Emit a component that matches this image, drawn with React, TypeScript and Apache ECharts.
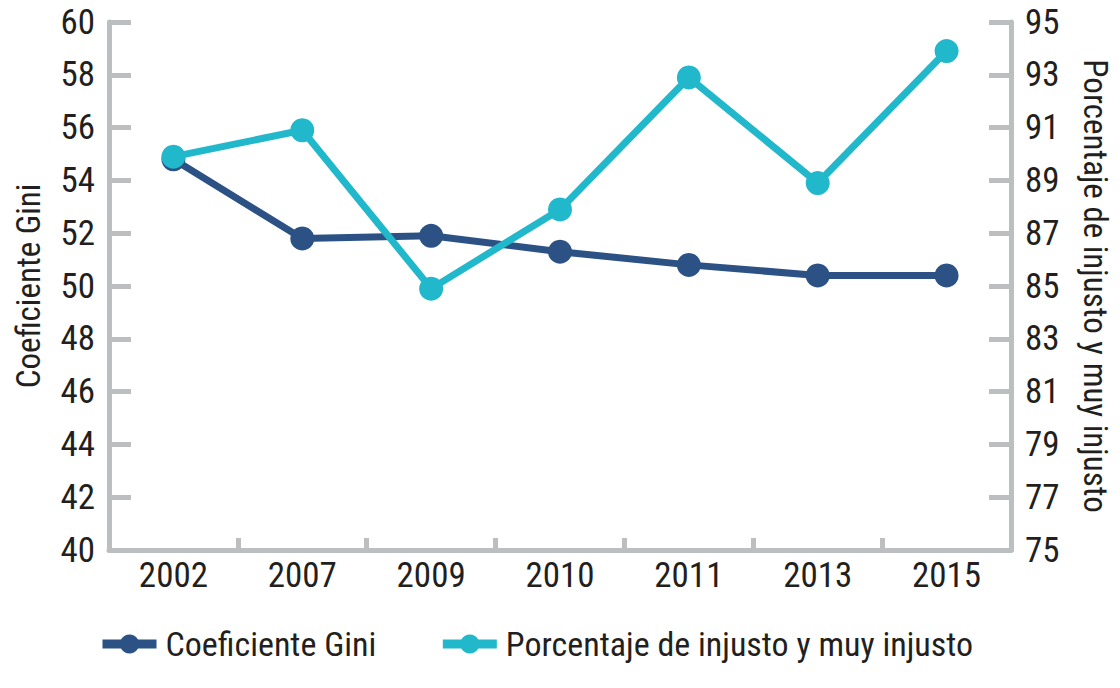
import React, { useEffect, useRef } from "react";
import * as echarts from "echarts";

const years = ["2002", "2007", "2009", "2010", "2011", "2013", "2015"];
const gini = [54.8, 51.8, 51.9, 51.3, 50.8, 50.4, 50.4];
const injusto = [89.9, 90.9, 84.9, 87.9, 92.9, 88.9, 93.9];

const FONT =
  "'Roboto Condensed', 'Liberation Sans Narrow', 'DejaVu Sans Condensed', sans-serif";
const AXIS = "#bcbec0";
const TEXT = "#231f20";
const BLUE = "#2c5285";
const CYAN = "#22b8cb";

export default function App() {
  const ref = useRef<HTMLDivElement>(null);
  useEffect(() => {
    const chart = echarts.init(ref.current!, null, { renderer: "svg" });
    const yCommon = {
      type: "value",
      interval: 2,
      splitLine: { show: false },
      axisLine: { show: true, lineStyle: { color: AXIS, width: 5 } },
      axisTick: { show: true, inside: true, length: 22, lineStyle: { color: AXIS, width: 5 } },
      axisLabel: { color: TEXT, fontSize: 35, fontFamily: FONT, margin: 14 },
      nameLocation: "middle",
      nameTextStyle: { color: TEXT, fontSize: 33, fontFamily: FONT },
    };
    chart.setOption({
      animation: false,
      grid: { left: 109, right: 102, top: 22, bottom: 138, containLabel: false },
      legend: {
        top: 622,
        left: 93,
        itemWidth: 54,
        itemHeight: 24,
        itemGap: 62,
        lineStyle: { width: 9 },
        textStyle: { color: TEXT, fontSize: 34, fontFamily: FONT, padding: [0, 0, 0, 4] },
        data: ["Coeficiente Gini", "Porcentaje de injusto y muy injusto"],
      },
      xAxis: {
        type: "category",
        data: years,
        boundaryGap: true,
        axisLine: { lineStyle: { color: AXIS, width: 5 } },
        axisTick: { show: true, inside: true, length: 12, lineStyle: { color: AXIS, width: 5 } },
        axisLabel: { color: TEXT, fontSize: 35, fontFamily: FONT, margin: 8 },
      },
      yAxis: [
        {
          ...yCommon,
          min: 40,
          max: 60,
          position: "left",
          name: "Coeficiente Gini",
          nameGap: 64,
        },
        {
          ...yCommon,
          min: 75,
          max: 95,
          position: "right",
          name: "Porcentaje de injusto y muy injusto",
          nameGap: 68,
          nameRotate: -90,
        },
      ],
      series: [
        {
          name: "Coeficiente Gini",
          type: "line",
          yAxisIndex: 0,
          data: gini,
          symbol: "circle",
          symbolSize: 24,
          lineStyle: { color: BLUE, width: 7 },
          itemStyle: { color: BLUE },
        },
        {
          name: "Porcentaje de injusto y muy injusto",
          type: "line",
          yAxisIndex: 1,
          data: injusto,
          symbol: "circle",
          symbolSize: 24,
          lineStyle: { color: CYAN, width: 7 },
          itemStyle: { color: CYAN },
        },
      ],
    });
    return () => chart.dispose();
  }, []);
  return (
    <div
      ref={ref}
      style={{ position: "fixed", left: 0, top: 0, width: 1120, height: 688, background: "#fff" }}
    />
  );
}
